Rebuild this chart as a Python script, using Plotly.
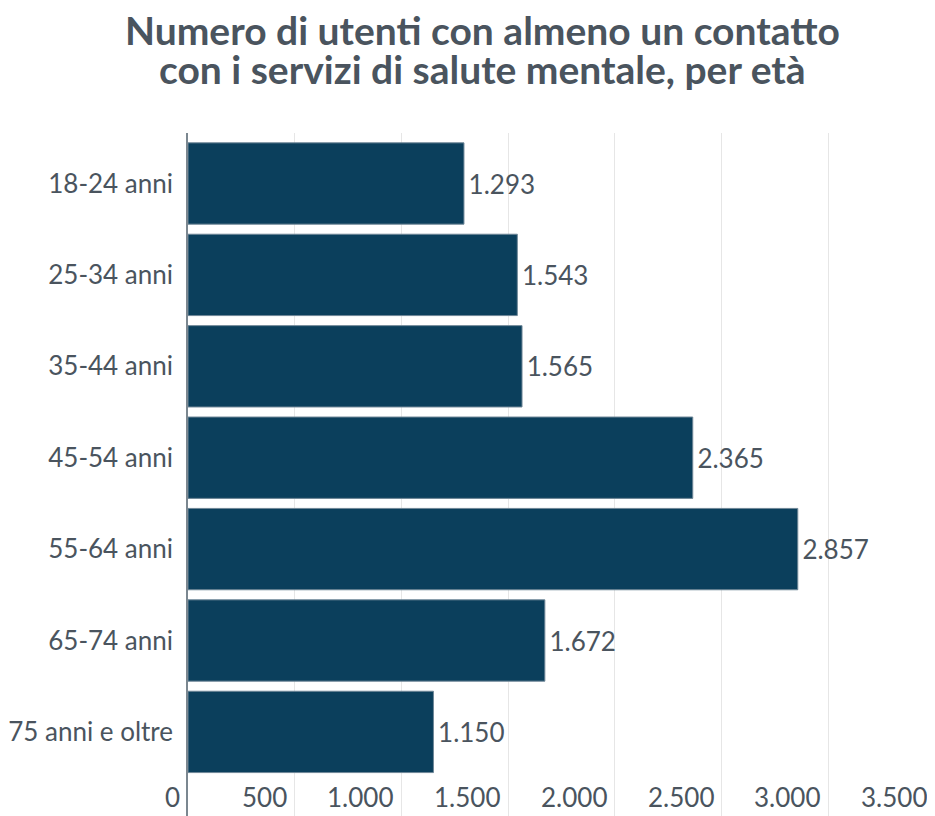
import plotly.graph_objects as go

# data
fasce_eta = [
    "18-24 anni", "25-34 anni", "35-44 anni", "45-54 anni",
    "55-64 anni", "65-74 anni", "75 anni e oltre",
]
utenti = [1293, 1543, 1565, 2365, 2857, 1672, 1150]
x_ticks = [0, 500, 1000, 1500, 2000, 2500, 3000, 3500]
titolo = [
    "Numero di utenti con almeno un contatto",
    "con i servizi di salute mentale, per età",
]

BAR_COLOR = "#0b3f5c"
TEXT_COLOR = "#4a545e"
FONT = "Lato, 'Open Sans', sans-serif"

fig = go.Figure(
    go.Bar(
        x=utenti,
        y=fasce_eta,
        orientation="h",
        marker=dict(color=BAR_COLOR, line=dict(color="#6f8797", width=1)),
        texttemplate="\u200a%{x:,}",
        textposition="outside",
        textfont=dict(family=FONT, size=26, color=TEXT_COLOR),
        cliponaxis=False,
    )
)

# tick labels drawn right-aligned just before each gridline
for t in x_ticks:
    fig.add_annotation(
        x=t, y=0, xref="x", yref="paper",
        text=f"{t:,}".replace(",", "."),
        showarrow=False, xanchor="right", yanchor="bottom",
        xshift=-6, yshift=1,
        font=dict(family=FONT, size=26, color=TEXT_COLOR),
    )

# two-line title, one annotation per line to keep the tight line spacing
for line, ypos in zip(titolo, [1.151, 1.094]):
    fig.add_annotation(
        x=0.3936, y=ypos, xref="paper", yref="paper",
        text=f"<b>{line}</b>", showarrow=False,
        xanchor="center", yanchor="middle",
        font=dict(family=FONT, size=39, color=TEXT_COLOR),
    )

fig.update_layout(
    width=927,
    height=808,
    margin=dict(l=180, r=0, t=125, b=0),
    paper_bgcolor="white",
    plot_bgcolor="white",
    separators=",.",
    showlegend=False,
    bargap=0.11,
    font=dict(family=FONT, size=26, color=TEXT_COLOR),
)
fig.update_xaxes(
    range=[0, 3500],
    tickvals=x_ticks,
    showticklabels=False,
    showgrid=True,
    gridcolor="#e6e6e6",
    gridwidth=1,
    zeroline=False,
    fixedrange=True,
)
fig.update_yaxes(
    range=[6.92, -0.5525],
    showline=True,
    linecolor="#7b8790",
    linewidth=1.5,
    ticks="",
    ticklabelstandoff=8,
    tickfont=dict(family=FONT, size=26, color=TEXT_COLOR),
    showgrid=False,
    zeroline=False,
    fixedrange=True,
)

fig.write_html("out.html", config={"displayModeBar": False})
